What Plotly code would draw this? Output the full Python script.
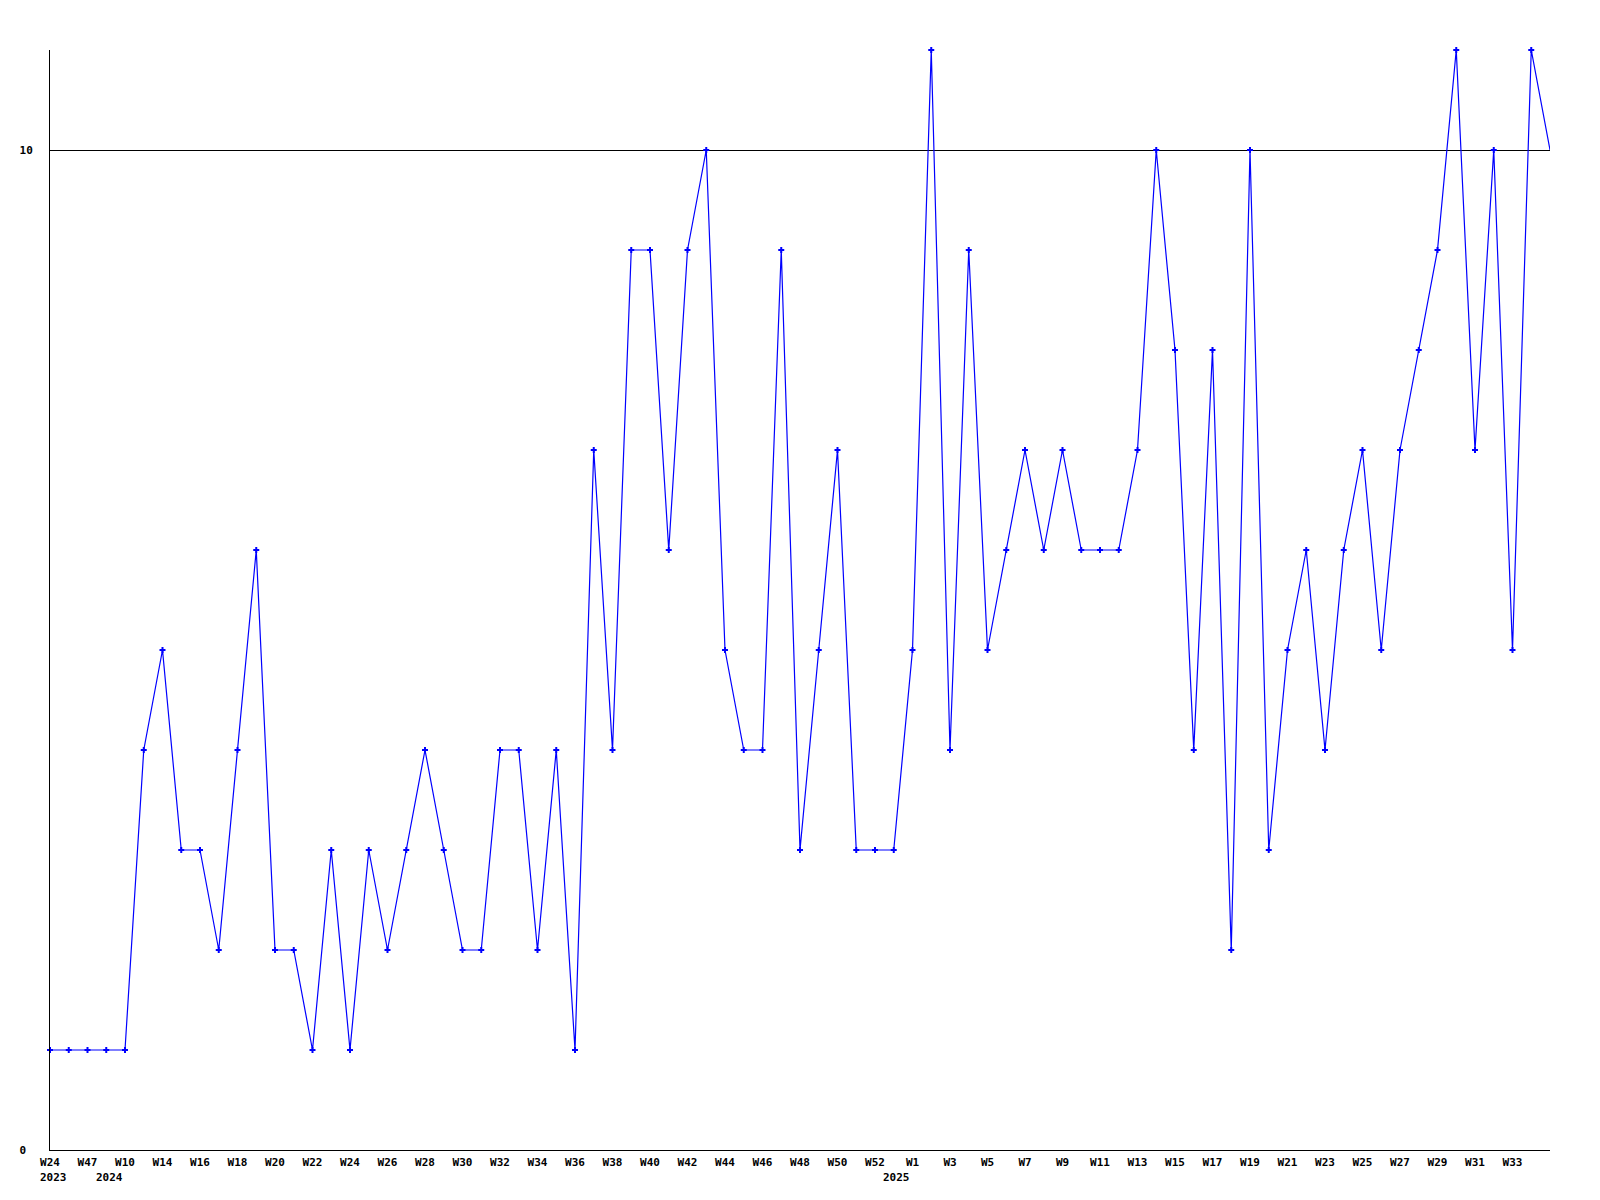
import plotly.graph_objects as go

# ---- data ----
week_ids = (["2023-W24", "2023-W38", "2023-W47", "2024-W02", "2024-W10", "2024-W12"]
            + [f"2024-W{w:02d}" for w in range(14, 53)]
            + ["2025-W00"]
            + [f"2025-W{w:02d}" for w in range(1, 36)])

values = [1, 1, 1, 1, 1, 4, 5, 3, 3, 2,
          4, 6, 2, 2, 1, 3, 1, 3, 2, 3,
          4, 3, 2, 2, 4, 4, 2, 4, 1, 7,
          4, 9, 9, 6, 9, 10, 5, 4, 4, 9,
          3, 5, 7, 3, 3, 3, 5, 11, 4, 9,
          5, 6, 7, 6, 7, 6, 6, 6, 7, 10,
          8, 4, 8, 2, 10, 3, 5, 6, 4, 6,
          7, 5, 7, 8, 9, 11, 7, 10, 5, 11,
          10]

y_ticks = [0, 10]
last_labelled_week = "2025-W33"

# ---- derived labels ----
label_ids = week_ids[: week_ids.index(last_labelled_week) + 1][::2]
label_text = ["W" + str(int(w.split("-W")[1])) for w in label_ids]
y_tick_text = [str(v).ljust(2, "\u00a0") for v in y_ticks]  # left-aligned look

year_first = {}
for w in week_ids:
    year_first.setdefault(w.split("-")[0], w)

font = dict(family="DejaVu Sans Mono", size=11, color="black", weight="bold")

fig = go.Figure()
fig.add_trace(go.Scatter(x=week_ids, y=values, mode="lines",
                         line=dict(color="#0000ff", width=1.2),
                         cliponaxis=False, hoverinfo="skip"))
fig.add_trace(go.Scatter(x=week_ids[:-1], y=values[:-1], mode="markers",
                         marker=dict(symbol="cross", size=5, color="#0000ff",
                                     line=dict(width=0)),
                         cliponaxis=False))

for year, w in year_first.items():
    fig.add_annotation(x=w, y=0, xref="x", yref="y", text=year, showarrow=False,
                       xanchor="center", yanchor="top", yshift=-19, xshift=3,
                       font=font)

fig.update_layout(
    width=1600, height=1200,
    margin=dict(l=42, r=58, t=42, b=58),
    paper_bgcolor="white", plot_bgcolor="white",
    showlegend=False,
    xaxis=dict(type="category", categoryorder="array", categoryarray=week_ids,
               range=[0, len(week_ids) - 1], tickmode="array",
               tickvals=label_ids, ticktext=label_text, tickfont=font,
               showgrid=False, zeroline=False, showline=True,
               linecolor="black", linewidth=1, ticks="", ticklabelstandoff=2),
    yaxis=dict(range=[0, 11], tickmode="array", tickvals=y_ticks,
               ticktext=y_tick_text,
               tickfont=font, showgrid=True, gridcolor="black", gridwidth=1,
               zeroline=False, showline=True, linecolor="black", linewidth=1,
               ticks="", ticklabelstandoff=14),
)

fig.write_html("out.html")
